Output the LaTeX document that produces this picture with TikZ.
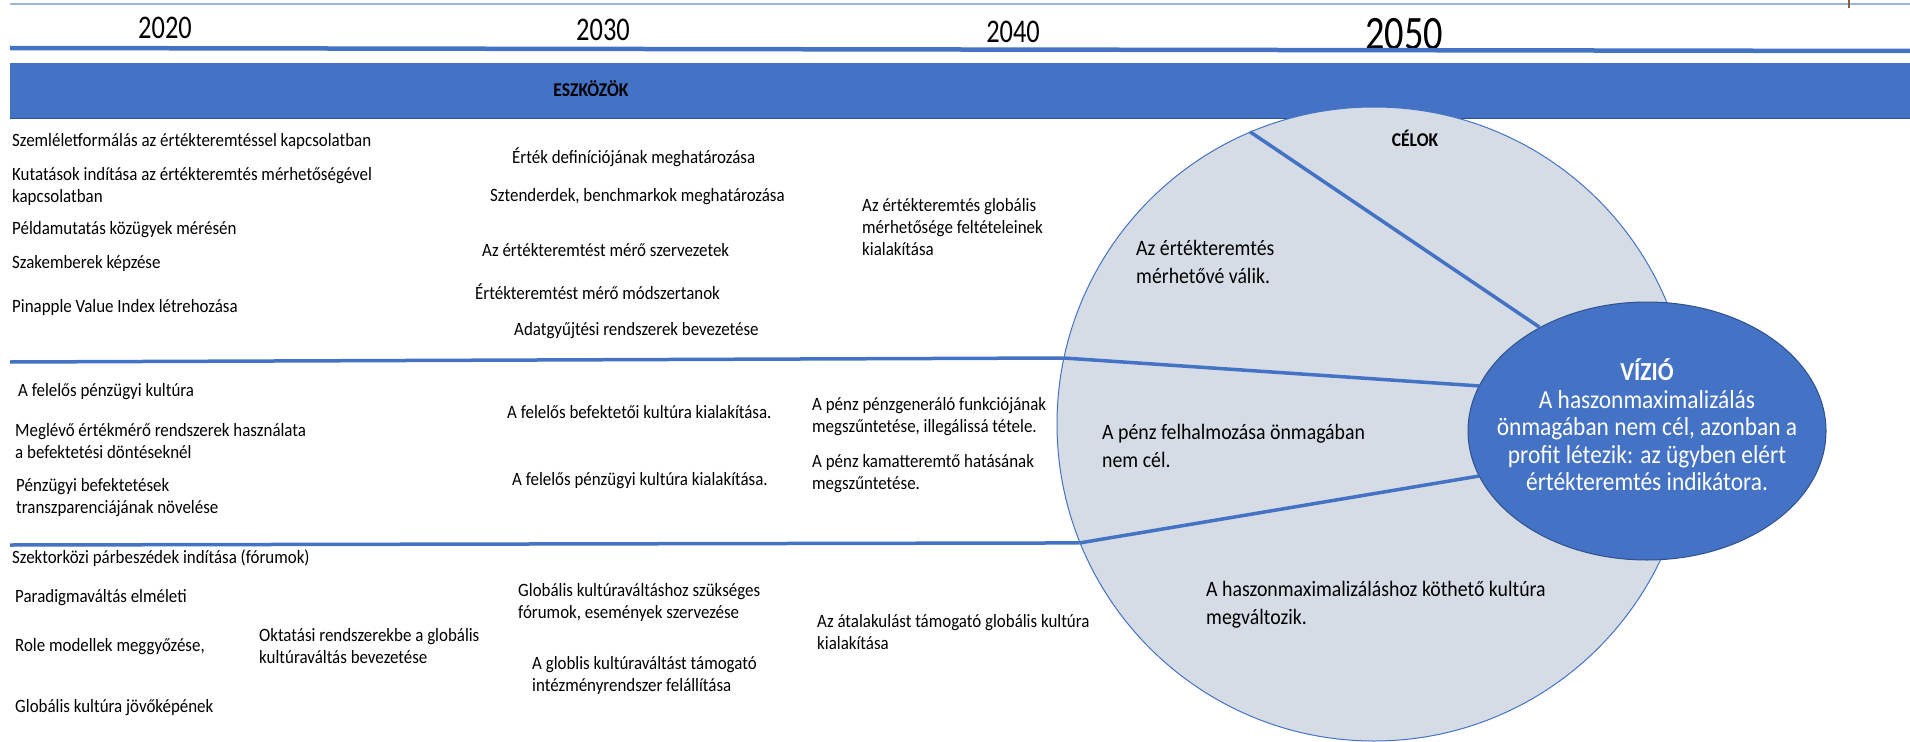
\documentclass[tikz,border=0pt]{standalone}
\usepackage{fontspec}
\setmainfont{Carlito}[FakeStretch=0.9]
\newfontfamily\yearfont{Carlito}[FakeStretch=0.8]
\usetikzlibrary{shapes.geometric}

\definecolor{barblue}{HTML}{4472C4}
\definecolor{darkblue}{HTML}{2F528F}
\definecolor{goalfill}{HTML}{D6DCE5}
\definecolor{paleblue}{HTML}{9DB5D8}
\definecolor{tickbrown}{HTML}{8B5E3C}

\tikzset{
  item/.style={anchor=west, align=left, inner sep=0pt, font=\fontsize{18.8}{22}\selectfont},
  goaltext/.style={anchor=west, align=left, inner sep=0pt, font=\fontsize{22}{28}\selectfont},
  year/.style={inner sep=0pt, font=\yearfont\fontsize{33}{33}\selectfont},
  heading/.style={inner sep=0pt, font=\bfseries\fontsize{19.5}{20}\selectfont},
  sepline/.style={draw=barblue, line width=3.5pt},
}

\begin{document}
\begin{tikzpicture}[x=1pt, y=-1pt]
    \useasboundingbox (0,0) rectangle (1910,741);

    % Top rule and years
    \draw[paleblue, line width=1.6pt] (10,4) -- (1910,4);
    \draw[tickbrown, line width=1.2pt] (1849,0) -- (1849,8);
    \node[year] (y2020) at (165,28) {2020};
    \node[year] (y2030) at (603,30) {2030};
    \node[year] (y2040) at (1013,32) {2040};
    \node[year, font=\yearfont\fontsize{48}{48}\selectfont] (y2050) at (1404,34) {2050};
    \draw[barblue, line width=4.5pt] (10,48) -- (1910,51);

    % Tools band
    \fill[barblue] (10,63) rectangle (1910,119);
    \draw[darkblue, line width=1pt] (10,119) -- (1910,119);
    \node[heading] (tools) at (591,89) {ESZKÖZÖK};

    % Goals circle and vision
    \node[circle, fill=goalfill, draw=barblue, line width=1pt, minimum size=634pt] (celok) at (1374,424) {};
    \coordinate (row1) at (10,362);
    \coordinate (row2) at (10,545);
    \draw[sepline] (row1) -- (celok.168);
    \draw[sepline] (row2) -- (celok.202);
    \node[ellipse, fill=barblue, draw=darkblue, line width=1pt, minimum width=358pt, minimum height=258pt] (vizio) at (1647,431) {};
    \draw[sepline] (celok.113) -- (vizio.136);
    \draw[sepline] (celok.168) -- (vizio.165);
    \draw[sepline] (celok.202) -- (vizio.195);
    \node[heading] (goals) at (1415,138) {CÉLOK};
    \node[align=center, text=white, inner sep=0pt, font=\fontsize{26}{27.5}\selectfont] (vision) at (1647,425)
        {\textbf{VÍZIÓ}\\A haszonmaximalizálás\\önmagában nem cél, azonban a\\profit létezik: az ügyben elért\\értékteremtés indikátora.};

    % Row 1: measurement
    \node[item] (s1) at (12,141) {Szemléletformálás az értékteremtéssel kapcsolatban};
    \node[item] (s2) at (12,186) {Kutatások indítása az értékteremtés mérhetőségével\\kapcsolatban};
    \node[item] (s3) at (12,230) {Példamutatás közügyek mérésén};
    \node[item] (s4) at (12,263) {Szakemberek képzése};
    \node[item] (s5) at (12,307) {Pinapple Value Index létrehozása};
    \node[item] (e1) at (512,157) {Érték definíciójának meghatározása};
    \node[item] (e2) at (490,197) {Sztenderdek, benchmarkok meghatározása};
    \node[item] (e3) at (482,250) {Az értékteremtést mérő szervezetek};
    \node[item] (e4) at (475,292) {Értékteremtést mérő módszertanok};
    \node[item] (e5) at (514,331) {Adatgyűjtési rendszerek bevezetése};
    \node[item] (g1) at (862,227) {Az értékteremtés globális\\mérhetősége feltételeinek\\kialakítása};
    \node[goaltext] (goal1) at (1136,262) {Az értékteremtés\\mérhetővé válik.};

    % Row 2: money
    \node[item] (p1) at (18,392) {A felelős pénzügyi kultúra};
    \node[item] (p2) at (15,441) {Meglévő értékmérő rendszerek használata\\a befektetési döntéseknél};
    \node[item] (p3) at (16,498) {Pénzügyi befektetések\\transzparenciájának növelése};
    \node[item] (b1) at (507,412) {A felelős befektetői kultúra kialakítása.};
    \node[item] (b2) at (512,481) {A felelős pénzügyi kultúra kialakítása.};
    \node[item] (m1) at (812,417) {A pénz pénzgeneráló funkciójának\\megszűntetése, illegálissá tétele.};
    \node[item] (m2) at (812,474) {A pénz kamatteremtő hatásának\\megszűntetése.};
    \node[goaltext] (goal2) at (1102,446) {A pénz felhalmozása önmagában\\nem cél.};

    % Row 3: culture
    \node[item] (k1) at (12,558) {Szektorközi párbeszédek indítása (fórumok)};
    \node[item] (k2) at (15,598) {Paradigmaváltás elméleti};
    \node[item] (k3) at (15,647) {Role modellek meggyőzése,};
    \node[item] (k4) at (15,708) {Globális kultúra jövőképének};
    \node[item] (k5) at (259,646) {Oktatási rendszerekbe a globális\\kultúraváltás bevezetése};
    \node[item] (f1) at (518,602) {Globális kultúraváltáshoz szükséges\\fórumok, események szervezése};
    \node[item] (f2) at (532,675) {A globlis kultúraváltást támogató\\intézményrendszer felállítása};
    \node[item] (a1) at (817,632) {Az átalakulást támogató globális kultúra\\kialakítása};
    \node[goaltext] (goal3) at (1206,605) {A haszonmaximalizáláshoz köthető kultúra\\megváltozik.};

\end{tikzpicture}
\end{document}
